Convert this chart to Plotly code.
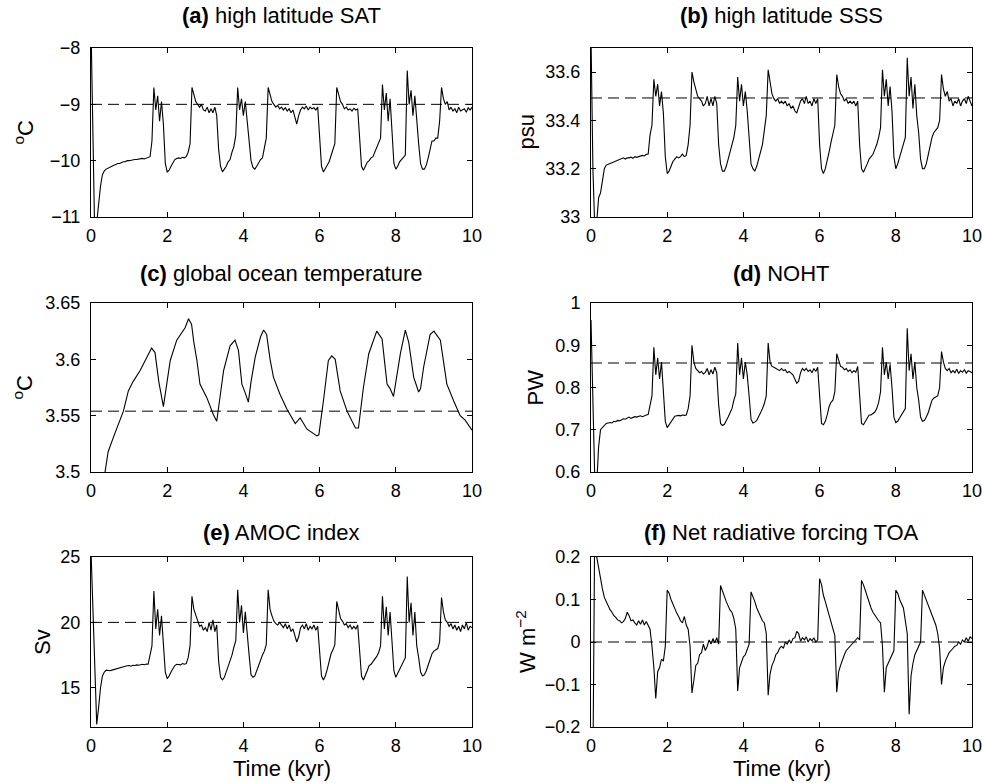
import numpy as np
import plotly.graph_objects as go

# ---------------- data ----------------
# model output sampled every 50 years, 0 .. 10 kyr
time_kyr = np.linspace(0.0, 10.0, 201)

sat_high_lat = [
    -7.60, -9.60, -11.40, -11.10, -10.75, -10.45, -10.25, -10.18, -10.15, -10.13,
    -10.11, -10.09, -10.08, -10.07, -10.05, -10.05, -10.03, -10.02, -10.02, -10.00,
    -10.00, -9.99, -9.99, -9.98, -9.98, -9.97, -9.97, -9.96, -9.97, -9.96,
    -9.95, -9.93, -9.65, -8.70, -9.10, -8.85, -9.30, -8.95, -9.35, -10.05,
    -10.20, -10.17, -10.10, -10.04, -9.98, -9.96, -9.95, -9.96, -9.94, -9.95,
    -9.93, -9.85, -9.70, -8.70, -8.85, -8.95, -9.00, -9.05, -9.00, -9.10,
    -9.12, -9.05, -9.15, -9.08, -9.15, -9.05, -9.20, -9.80, -10.10, -10.20,
    -10.15, -10.10, -10.02, -9.98, -9.85, -9.75, -9.55, -8.70, -9.10, -8.90,
    -9.20, -8.95, -9.30, -9.60, -10.00, -10.12, -10.15, -10.10, -10.03, -9.98,
    -9.95, -9.80, -9.60, -8.70, -8.85, -8.95, -9.00, -9.05, -9.02, -9.08,
    -9.05, -9.10, -9.06, -9.12, -9.08, -9.15, -9.10, -9.25, -9.35, -9.20,
    -9.10, -9.05, -9.08, -9.03, -9.10, -9.05, -9.08, -9.06, -9.10, -9.05,
    -9.60, -10.10, -10.20, -10.15, -10.08, -10.02, -9.90, -9.80, -9.70, -8.70,
    -8.85, -8.95, -9.00, -9.08, -9.05, -9.10, -9.08, -9.12, -9.07, -9.10,
    -9.08, -9.70, -10.10, -10.17, -10.10, -10.03, -10.00, -9.95, -9.93, -9.85,
    -9.75, -9.70, -9.60, -8.65, -9.10, -8.80, -9.30, -8.90, -9.40, -10.05,
    -10.15, -10.10, -10.02, -9.98, -9.95, -9.90, -8.40, -9.00, -8.75, -9.20,
    -8.85, -9.35, -9.70, -10.05, -10.15, -10.15, -10.08, -9.95, -9.80, -9.65,
    -9.65, -9.60, -9.60, -9.30, -8.70, -8.90, -9.00, -8.95, -9.10, -9.05,
    -9.12, -9.08, -9.15, -9.05, -9.12, -9.10, -9.08, -9.14, -9.06, -9.10,
    -9.05,
]

sss_high_lat = [
    33.750, 33.200, 32.950, 32.980, 33.080, 33.100, 33.150, 33.200, 33.215, 33.220,
    33.222, 33.225, 33.228, 33.230, 33.235, 33.238, 33.240, 33.245, 33.240, 33.245,
    33.245, 33.248, 33.243, 33.250, 33.247, 33.250, 33.252, 33.255, 33.253, 33.260,
    33.260, 33.340, 33.380, 33.570, 33.500, 33.550, 33.460, 33.520, 33.430, 33.250,
    33.180, 33.190, 33.210, 33.230, 33.240, 33.250, 33.245, 33.250, 33.260, 33.250,
    33.255, 33.300, 33.380, 33.600, 33.560, 33.530, 33.500, 33.490, 33.480, 33.460,
    33.470, 33.500, 33.460, 33.490, 33.460, 33.500, 33.470, 33.300, 33.220, 33.190,
    33.190, 33.210, 33.240, 33.270, 33.300, 33.330, 33.380, 33.580, 33.480, 33.550,
    33.460, 33.520, 33.440, 33.330, 33.220, 33.200, 33.190, 33.210, 33.240, 33.270,
    33.300, 33.360, 33.420, 33.610, 33.550, 33.510, 33.490, 33.480, 33.490, 33.470,
    33.480, 33.470, 33.480, 33.460, 33.470, 33.450, 33.460, 33.440, 33.430, 33.460,
    33.480, 33.490, 33.470, 33.500, 33.470, 33.480, 33.460, 33.490, 33.470, 33.490,
    33.300, 33.200, 33.180, 33.200, 33.230, 33.270, 33.310, 33.350, 33.380, 33.590,
    33.540, 33.510, 33.500, 33.480, 33.490, 33.470, 33.480, 33.470, 33.480, 33.460,
    33.480, 33.300, 33.200, 33.185, 33.200, 33.220, 33.240, 33.250, 33.260, 33.280,
    33.300, 33.330, 33.370, 33.610, 33.500, 33.570, 33.460, 33.540, 33.440, 33.250,
    33.200, 33.220, 33.250, 33.280, 33.300, 33.330, 33.660, 33.500, 33.580, 33.450,
    33.550, 33.420, 33.350, 33.240, 33.200, 33.200, 33.220, 33.260, 33.300, 33.330,
    33.350, 33.360, 33.370, 33.400, 33.590, 33.530, 33.500, 33.520, 33.480, 33.490,
    33.460, 33.480, 33.470, 33.490, 33.460, 33.480, 33.490, 33.470, 33.500, 33.480,
    33.460,
]

noht = [
    0.960, 0.750, 0.580, 0.570, 0.660, 0.700, 0.705, 0.712, 0.715, 0.716,
    0.717, 0.716, 0.720, 0.719, 0.722, 0.721, 0.724, 0.726, 0.725, 0.728,
    0.730, 0.727, 0.729, 0.731, 0.730, 0.732, 0.733, 0.731, 0.734, 0.735,
    0.736, 0.760, 0.780, 0.895, 0.830, 0.870, 0.820, 0.860, 0.800, 0.720,
    0.705, 0.712, 0.720, 0.728, 0.732, 0.733, 0.734, 0.733, 0.735, 0.734,
    0.735, 0.750, 0.780, 0.900, 0.860, 0.845, 0.840, 0.835, 0.838, 0.832,
    0.836, 0.845, 0.830, 0.842, 0.832, 0.848, 0.835, 0.760, 0.715, 0.710,
    0.713, 0.720, 0.730, 0.740, 0.750, 0.770, 0.785, 0.905, 0.830, 0.870,
    0.820, 0.860, 0.830, 0.780, 0.725, 0.716, 0.718, 0.722, 0.730, 0.740,
    0.750, 0.762, 0.780, 0.905, 0.860, 0.850, 0.848, 0.845, 0.843, 0.840,
    0.845, 0.840, 0.842, 0.835, 0.838, 0.835, 0.830, 0.820, 0.810, 0.815,
    0.835, 0.845, 0.840, 0.845, 0.838, 0.842, 0.835, 0.845, 0.838, 0.848,
    0.780, 0.715, 0.712, 0.720, 0.735, 0.755, 0.765, 0.770, 0.790, 0.880,
    0.865, 0.850, 0.848, 0.842, 0.845, 0.838, 0.842, 0.835, 0.840, 0.836,
    0.850, 0.780, 0.715, 0.712, 0.720, 0.728, 0.735, 0.735, 0.738, 0.742,
    0.750, 0.765, 0.790, 0.895, 0.830, 0.860, 0.820, 0.855, 0.800, 0.730,
    0.717, 0.720, 0.728, 0.735, 0.745, 0.750, 0.940, 0.840, 0.880, 0.820,
    0.860, 0.800, 0.770, 0.730, 0.720, 0.722, 0.730, 0.740, 0.755, 0.770,
    0.775, 0.778, 0.780, 0.800, 0.885, 0.860, 0.845, 0.840, 0.845, 0.835,
    0.840, 0.835, 0.843, 0.833, 0.840, 0.836, 0.842, 0.834, 0.840, 0.838,
    0.835,
]

amoc_index = [
    25.5, 21.0, 15.0, 12.2, 13.5, 15.0, 15.9, 16.2, 16.35, 16.3,
    16.3, 16.35, 16.4, 16.45, 16.5, 16.55, 16.6, 16.62, 16.65, 16.68,
    16.7, 16.65, 16.72, 16.7, 16.75, 16.72, 16.78, 16.8, 16.76, 16.82,
    16.8, 17.5, 18.2, 22.4, 19.5, 21.0, 19.0, 20.5, 18.4, 16.2,
    15.7, 15.9, 16.2, 16.5, 16.7, 16.8, 16.8, 16.75, 16.85, 16.8,
    16.85, 17.3, 18.2, 22.0, 21.0, 20.5, 20.0, 19.7, 19.8, 19.4,
    19.6, 19.3, 20.0, 19.4, 20.2, 19.3, 19.8, 17.0, 15.8, 15.6,
    15.8, 16.2, 16.6, 17.0, 17.5, 18.1, 18.6, 22.5, 20.0, 21.3,
    19.2, 20.8, 18.8, 17.5, 16.0, 15.8, 15.9, 16.3, 16.8, 17.2,
    17.5, 17.8, 18.3, 22.5, 21.0, 20.5, 20.1, 19.9, 19.8, 20.0,
    19.8, 19.6, 19.9, 19.5, 19.8, 19.3, 19.5, 19.0, 18.5, 18.9,
    19.6, 19.8, 19.5, 19.9, 19.4, 19.7, 19.5, 19.8, 19.4, 19.7,
    17.8, 15.9, 15.6, 15.9, 16.4, 17.0, 17.6, 17.9, 18.3, 21.6,
    21.0, 20.3, 20.1, 19.8, 19.9, 19.6, 19.8, 19.5, 19.7, 19.5,
    19.8, 17.8, 15.9, 15.6, 15.9, 16.3, 16.7, 16.8, 17.0, 17.2,
    17.4, 17.7, 18.2, 22.0, 19.5, 21.2, 19.0, 20.8, 18.3, 16.3,
    15.8, 16.1, 16.5, 16.8, 17.0, 17.3, 23.5, 20.0, 21.5, 19.0,
    20.8, 18.2, 17.3, 16.2, 15.9, 16.0, 16.3, 16.8, 17.3, 17.6,
    17.8, 17.9, 18.0, 18.5, 21.9, 20.8, 20.2, 20.0, 19.7, 19.9,
    19.5, 19.8, 19.4, 19.7, 19.3, 19.8, 19.5, 20.0, 19.4, 19.7,
    19.6,
]

toa_forcing = [
    -0.300, -0.300, 0.300, 0.200, 0.175, 0.145, 0.125, 0.105, 0.094, 0.085,
    0.076, 0.070, 0.062, 0.058, 0.052, 0.050, 0.045, 0.048, 0.055, 0.070,
    0.062, 0.050, 0.052, 0.045, 0.040, 0.050, 0.042, 0.052, 0.040, 0.048,
    0.040, 0.030, -0.010, -0.060, -0.133, -0.070, -0.060, -0.040, -0.045, -0.010,
    0.122, 0.115, 0.100, 0.088, 0.080, 0.068, 0.060, 0.050, 0.045, 0.060,
    0.040, 0.030, -0.010, -0.120, -0.090, -0.055, -0.050, -0.030, -0.025, -0.005,
    -0.020, -0.010, 0.005, -0.005, 0.008, -0.002, 0.010, -0.005, 0.133, 0.120,
    0.105, 0.095, 0.085, 0.075, 0.070, 0.055, 0.030, -0.115, -0.060, -0.045,
    -0.035, -0.030, -0.015, -0.005, 0.118, 0.108, 0.095, 0.080, 0.070, 0.062,
    0.050, 0.045, 0.020, -0.125, -0.075, -0.055, -0.045, -0.030, -0.025, -0.015,
    -0.010, -0.015, 0.000, -0.005, 0.005, -0.003, 0.008, 0.010, 0.025, 0.020,
    0.002, 0.010, 0.005, 0.012, 0.000, 0.008, 0.003, 0.010, 0.000, 0.005,
    0.149, 0.135, 0.110, 0.095, 0.080, 0.060, 0.050, 0.030, 0.015, -0.118,
    -0.070, -0.055, -0.040, -0.030, -0.020, -0.015, -0.010, -0.005, 0.000, 0.005,
    0.010, 0.005, 0.145, 0.135, 0.120, 0.105, 0.090, 0.080, 0.070, 0.063,
    0.055, 0.050, 0.045, -0.010, -0.118, -0.060, -0.050, -0.040, -0.030, -0.020,
    0.122, 0.115, 0.100, 0.090, 0.080, 0.050, 0.020, -0.170, -0.080, -0.050,
    -0.030, -0.020, -0.010, 0.000, 0.122, 0.110, 0.100, 0.085, 0.075, 0.065,
    0.050, 0.040, 0.020, -0.015, -0.100, -0.060, -0.045, -0.035, -0.025, -0.020,
    -0.015, -0.010, -0.008, 0.000, -0.005, 0.005, 0.000, 0.010, 0.002, 0.012,
    0.008,
]

# global ocean temperature is smooth: read at irregular times
time_ocean = [
    0.30, 0.37, 0.45, 0.59, 0.72, 0.85, 0.98, 1.10, 1.29, 1.45, 1.59, 1.68, 1.78,
    1.90, 1.98, 2.08, 2.25, 2.47, 2.56, 2.64, 2.70, 2.78, 2.86, 3.04, 3.21, 3.30,
    3.38, 3.48, 3.65, 3.78, 3.87, 3.96, 4.05, 4.13, 4.20, 4.31, 4.45, 4.53, 4.61,
    4.70, 4.79, 4.96, 5.14, 5.36, 5.49, 5.67, 5.93, 5.98, 6.10, 6.23, 6.32, 6.41,
    6.54, 6.72, 6.94, 7.02, 7.15, 7.29, 7.50, 7.64, 7.77, 7.85, 7.94, 8.02, 8.12,
    8.25, 8.34, 8.47, 8.60, 8.65, 8.73, 8.90, 9.00, 9.17, 9.34, 9.52, 9.69, 9.82,
    10.00,
]
ocean_temp = [
    3.485, 3.500, 3.518, 3.531, 3.543, 3.554, 3.572, 3.580, 3.590, 3.601, 3.610, 3.606, 3.580,
    3.558, 3.578, 3.599, 3.617, 3.628, 3.636, 3.631, 3.615, 3.599, 3.578, 3.566, 3.551, 3.545,
    3.565, 3.590, 3.612, 3.617, 3.608, 3.578, 3.570, 3.562, 3.580, 3.602, 3.620, 3.626, 3.622,
    3.600, 3.584, 3.569, 3.556, 3.543, 3.548, 3.538, 3.532, 3.533, 3.563, 3.599, 3.603, 3.600,
    3.572, 3.554, 3.539, 3.539, 3.575, 3.605, 3.625, 3.618, 3.578, 3.574, 3.567, 3.585, 3.605,
    3.626, 3.615, 3.584, 3.571, 3.574, 3.593, 3.622, 3.625, 3.617, 3.578, 3.563, 3.550, 3.546,
    3.537,
]

# dashed reference levels (control-run means)
ref_sat, ref_sss, ref_ocean, ref_noht, ref_amoc, ref_toa = -9.0, 33.493, 3.554, 0.858, 20.0, 0.0

x_ticks = [0, 2, 4, 6, 8, 10]
sat_ticks, sat_ticktext = [-11, -10, -9, -8], ["\u221211", "\u221210", "\u22129", "\u22128"]
sss_ticks, sss_ticktext = [33, 33.2, 33.4, 33.6], ["33", "33.2", "33.4", "33.6"]
ocean_ticks, ocean_ticktext = [3.5, 3.55, 3.6, 3.65], ["3.5", "3.55", "3.6", "3.65"]
noht_ticks, noht_ticktext = [0.6, 0.7, 0.8, 0.9, 1.0], ["0.6", "0.7", "0.8", "0.9", "1"]
amoc_ticks, amoc_ticktext = [15, 20, 25], ["15", "20", "25"]
toa_ticks, toa_ticktext = [-0.2, -0.1, 0, 0.1, 0.2], ["\u22120.2", "\u22120.1", "0", "0.1", "0.2"]

# ---------------- figure ----------------
W, H = 982, 783
FONT = "Liberation Sans, Arial, Helvetica, sans-serif"

col_px = [(91, 472), (591, 972)]
row_px = [(48, 217), (303, 472), (557, 727)]

panels = [
    dict(t=time_kyr, y=sat_high_lat, ref=ref_sat, rng=[-11, -8], tv=sat_ticks, tt=sat_ticktext,
         title="<b>(a)</b> high latitude SAT", ylab="<sup>o</sup>C", ylab_x=24, row=0, col=0),
    dict(t=time_kyr, y=sss_high_lat, ref=ref_sss, rng=[33, 33.7], tv=sss_ticks, tt=sss_ticktext,
         title="<b>(b)</b> high latitude SSS", ylab="psu", ylab_x=526, row=0, col=1),
    dict(t=time_ocean, y=ocean_temp, ref=ref_ocean, rng=[3.5, 3.65], tv=ocean_ticks, tt=ocean_ticktext,
         title="<b>(c)</b> global ocean temperature", ylab="<sup>o</sup>C", ylab_x=22, row=1, col=0),
    dict(t=time_kyr, y=noht, ref=ref_noht, rng=[0.6, 1.0], tv=noht_ticks, tt=noht_ticktext,
         title="<b>(d)</b> NOHT", ylab="PW", ylab_x=535, row=1, col=1),
    dict(t=time_kyr, y=amoc_index, ref=ref_amoc, rng=[12, 25], tv=amoc_ticks, tt=amoc_ticktext,
         title="<b>(e)</b> AMOC index", ylab="Sv", ylab_x=42, row=2, col=0),
    dict(t=time_kyr, y=toa_forcing, ref=ref_toa, rng=[-0.2, 0.2], tv=toa_ticks, tt=toa_ticktext,
         title="<b>(f)</b> Net radiative forcing TOA", ylab="W m<sup>\u22122</sup>", ylab_x=526, row=2, col=1),
]
title_y_px = [15, 273, 532]

fig = go.Figure()
annotations = []
shapes = []
layout_axes = {}

for i, p in enumerate(panels):
    n = i + 1
    xa = "x" if n == 1 else f"x{n}"
    ya = "y" if n == 1 else f"y{n}"
    x0, x1 = col_px[p["col"]]
    top, bot = row_px[p["row"]]
    xdom = [x0 / W, x1 / W]
    ydom = [1 - bot / H, 1 - top / H]

    fig.add_trace(go.Scatter(x=p["t"], y=p["y"], mode="lines", xaxis=xa, yaxis=ya,
                             line=dict(color="black", width=1.1), hoverinfo="skip",
                             showlegend=False))

    common = dict(showline=True, linecolor="black", linewidth=1, mirror="ticks",
                  ticks="inside", ticklen=5, tickwidth=1, tickcolor="black",
                  showgrid=False, zeroline=False, automargin=False,
                  ticklabeloverflow="allow",
                  tickfont=dict(family=FONT, size=18, color="black"))
    layout_axes["xaxis" if n == 1 else f"xaxis{n}"] = dict(
        domain=xdom, anchor=ya, range=[0, 10], tickmode="array", tickvals=x_ticks,
        ticktext=[str(v) for v in x_ticks], ticklabelstandoff=2, **common)
    layout_axes["yaxis" if n == 1 else f"yaxis{n}"] = dict(
        domain=ydom, anchor=xa, range=p["rng"], tickmode="array", tickvals=p["tv"],
        ticktext=p["tt"], ticklabelstandoff=6, **common)

    shapes.append(dict(type="line", xref=f"{xa} domain", x0=0, x1=1, yref=ya,
                       y0=p["ref"], y1=p["ref"], layer="below",
                       line=dict(color="black", width=1, dash="11px,6px")))

    cx = (x0 + x1) / 2 / W
    annotations.append(dict(text=p["title"], xref="paper", yref="paper", x=cx,
                            y=1 - title_y_px[p["row"]] / H, xanchor="center", yanchor="middle",
                            showarrow=False, font=dict(family=FONT, size=22, color="black")))
    annotations.append(dict(text=p["ylab"], xref="paper", yref="paper", x=p["ylab_x"] / W,
                            y=(ydom[0] + ydom[1]) / 2, xanchor="center", yanchor="middle",
                            textangle=-90, showarrow=False,
                            font=dict(family=FONT, size=22, color="black")))
    if p["row"] == 2:
        annotations.append(dict(text="Time (kyr)", xref="paper", yref="paper", x=cx,
                                y=1 - 768 / H, xanchor="center", yanchor="middle",
                                showarrow=False, font=dict(family=FONT, size=22, color="black")))

fig.update_layout(template="none", width=W, height=H, margin=dict(l=0, r=0, t=0, b=0, pad=0),
                  paper_bgcolor="white", plot_bgcolor="white",
                  font=dict(family=FONT, color="black"), hovermode=False,
                  showlegend=False, annotations=annotations, shapes=shapes, **layout_axes)

fig.write_html("out.html", config={"displayModeBar": False, "staticPlot": True},
               post_script="document.body.style.margin='0px';document.body.style.padding='0px';"
                           "document.body.style.overflow='hidden';")
